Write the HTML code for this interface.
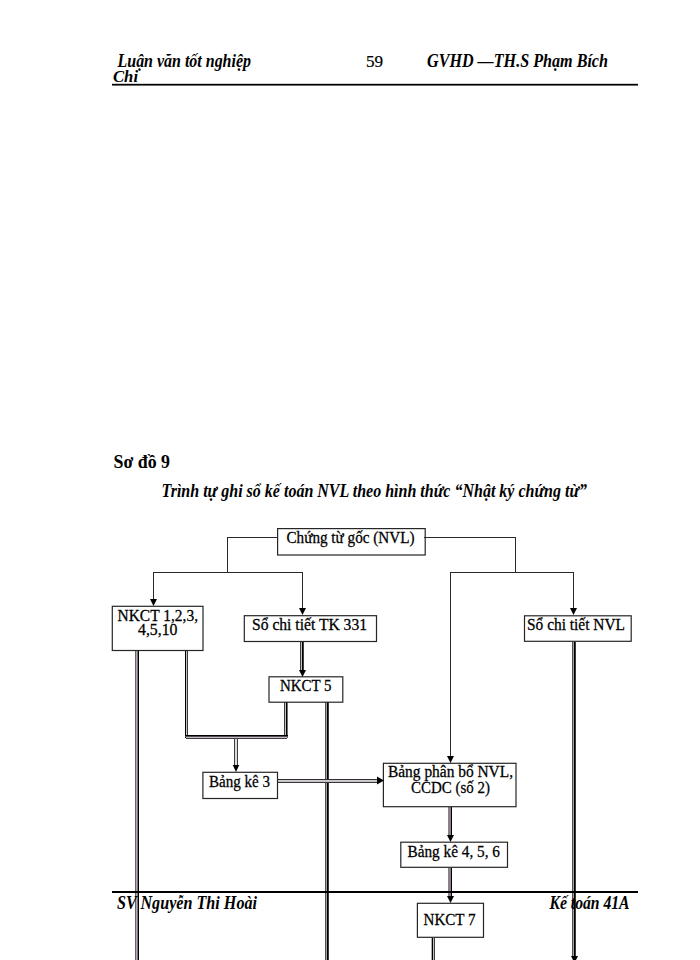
<!DOCTYPE html>
<html><head><meta charset="utf-8"><style>
html,body{margin:0;padding:0;background:#fff;width:700px;height:960px;overflow:hidden}
svg{display:block}
text{font-family:"Liberation Serif",serif;fill:#000}
</style></head><body>
<svg width="700" height="960" viewBox="0 0 700 960">
<g shape-rendering="crispEdges">
<rect x="112" y="83" width="526" height="1" fill="#cfcfcf"/>
<rect x="112" y="84" width="526" height="1" fill="#000"/>
<rect x="112" y="85" width="526" height="1" fill="#6a6a6a"/>
<rect x="227" y="537" width="51" height="1" fill="#2a2a2a"/>
<rect x="227" y="537" width="1" height="36" fill="#2a2a2a"/>
<rect x="153" y="572" width="150" height="1" fill="#2a2a2a"/>
<rect x="153" y="572" width="1" height="29" fill="#2a2a2a"/>
<rect x="302" y="572" width="1" height="38" fill="#2a2a2a"/>
<rect x="424" y="537" width="92" height="1" fill="#2a2a2a"/>
<rect x="515" y="537" width="1" height="36" fill="#2a2a2a"/>
<rect x="450" y="572" width="124" height="1" fill="#2a2a2a"/>
<rect x="573" y="572" width="1" height="38" fill="#2a2a2a"/>
<rect x="450" y="572" width="1" height="186" fill="#2a2a2a"/>
<rect x="135" y="651" width="1" height="310" fill="#6a626a"/>
<rect x="136" y="651" width="1" height="310" fill="#b4a8b4"/>
<rect x="137" y="651" width="1" height="310" fill="#7a727a"/>
<rect x="138" y="651" width="1" height="310" fill="#000"/>
<rect x="185" y="651" width="1" height="87" fill="#000"/>
<rect x="186" y="651" width="1" height="87" fill="#cabcca"/>
<rect x="187" y="651" width="1" height="87" fill="#3c3c3c"/>
<rect x="284" y="702" width="1" height="36" fill="#3c3c3c"/>
<rect x="285" y="702" width="1" height="36" fill="#cabcca"/>
<rect x="286" y="702" width="1" height="36" fill="#000"/>
<rect x="287" y="702" width="1" height="36" fill="#707070"/>
<rect x="185" y="735" width="103" height="1" fill="#000"/>
<rect x="185" y="736" width="103" height="1" fill="#505050"/>
<rect x="186" y="737" width="101" height="1" fill="#cabcca"/>
<rect x="186" y="738" width="101" height="1" fill="#3c3c3c"/>
<rect x="234" y="739" width="1" height="28" fill="#3c3c3c"/>
<rect x="235" y="739" width="1" height="28" fill="#e0d8e0"/>
<rect x="236" y="739" width="1" height="28" fill="#e0d8e0"/>
<rect x="237" y="739" width="1" height="28" fill="#3c3c3c"/>
<rect x="300" y="642" width="1" height="28" fill="#3c3c3c"/>
<rect x="301" y="642" width="1" height="28" fill="#cabcca"/>
<rect x="302" y="642" width="1" height="28" fill="#000"/>
<rect x="303" y="642" width="1" height="28" fill="#404040"/>
<rect x="325" y="702" width="1" height="259" fill="#505050"/>
<rect x="326" y="702" width="1" height="259" fill="#aa9aaa"/>
<rect x="327" y="702" width="1" height="259" fill="#000"/>
<rect x="328" y="702" width="1" height="259" fill="#3a3a3a"/>
<rect x="278" y="779" width="100" height="1" fill="#303030"/>
<rect x="278" y="780" width="100" height="1" fill="#d0c8d0"/>
<rect x="278" y="781" width="100" height="1" fill="#c8c0c8"/>
<rect x="278" y="782" width="100" height="1" fill="#353535"/>
<rect x="572" y="642" width="1" height="314" fill="#505050"/>
<rect x="573" y="642" width="1" height="314" fill="#aa9aaa"/>
<rect x="574" y="642" width="1" height="314" fill="#000"/>
<rect x="575" y="642" width="1" height="314" fill="#3a3a3a"/>
<rect x="448" y="807" width="1" height="29" fill="#8a808a"/>
<rect x="449" y="807" width="1" height="29" fill="#8a808a"/>
<rect x="450" y="807" width="1" height="29" fill="#8a808a"/>
<rect x="451" y="807" width="1" height="29" fill="#000"/>
<rect x="448" y="868" width="1" height="29" fill="#8a808a"/>
<rect x="449" y="868" width="1" height="29" fill="#8a808a"/>
<rect x="450" y="868" width="1" height="29" fill="#8a808a"/>
<rect x="451" y="868" width="1" height="29" fill="#000"/>
<rect x="431" y="938" width="1" height="23" fill="#b0b0b0"/>
<rect x="432" y="938" width="1" height="23" fill="#000"/>
<rect x="433" y="938" width="1" height="23" fill="#cabcca"/>
<rect x="434" y="938" width="1" height="23" fill="#3c3c3c"/>
<rect x="112" y="891" width="526" height="2" fill="#000"/>
</g>
<rect x="277.6" y="528.6" width="147.6" height="26.4" fill="none" stroke="#262626" stroke-width="1.2"/>
<rect x="112.3" y="606.3" width="90.7" height="44.2" fill="none" stroke="#262626" stroke-width="1.2"/>
<rect x="244.3" y="615.7" width="132.2" height="25.8" fill="none" stroke="#262626" stroke-width="1.2"/>
<rect x="524.5" y="615.8" width="106.7" height="25.5" fill="none" stroke="#262626" stroke-width="1.2"/>
<rect x="269.0" y="676.8" width="73.8" height="25.4" fill="none" stroke="#262626" stroke-width="1.2"/>
<rect x="202.9" y="772.3" width="74.6" height="26.2" fill="none" stroke="#262626" stroke-width="1.2"/>
<rect x="383.4" y="763.3" width="132.6" height="43.4" fill="none" stroke="#262626" stroke-width="1.2"/>
<rect x="400.8" y="842.2" width="106.7" height="25.1" fill="none" stroke="#262626" stroke-width="1.2"/>
<rect x="417.4" y="903.3" width="66.1" height="34.0" fill="none" stroke="#262626" stroke-width="1.2"/>
<polygon points="150.0,599 157.0,599 153.5,606" fill="#000"/>
<polygon points="299.0,608 306.0,608 302.5,615" fill="#000"/>
<polygon points="570.0,608 577.0,608 573.5,615" fill="#000"/>
<polygon points="447.0,756 454.0,756 450.5,763" fill="#000"/>
<polygon points="232.75,765 239.25,765 236.0,772" fill="#000"/>
<polygon points="299.0,670 306.0,670 302.5,677" fill="#000"/>
<polygon points="377,776.5 377,784.5 384,780.5" fill="#000"/>
<polygon points="571.0,956 578.0,956 574.5,963" fill="#000"/>
<polygon points="447.0,835 454.0,835 450.5,842" fill="#000"/>
<polygon points="447.0,896 454.0,896 450.5,903" fill="#000"/>
<text x="117.5" y="67.0" font-size="18.0" font-weight="bold" font-style="italic" textLength="133.5" lengthAdjust="spacingAndGlyphs">Luận văn tốt nghiệp</text>
<text x="366.0" y="67.3" font-size="17.3" font-weight="normal" font-style="normal" textLength="17.09" lengthAdjust="spacingAndGlyphs" stroke="#000" stroke-width="0.2">59</text>
<text x="427.0" y="67.0" font-size="18.4" font-weight="bold" font-style="italic" textLength="181.01" lengthAdjust="spacingAndGlyphs">GVHD —TH.S Phạm Bích</text>
<text x="113.0" y="81.5" font-size="17.0" font-weight="bold" font-style="italic" textLength="25.02" lengthAdjust="spacingAndGlyphs">Chi</text>
<text x="113.5" y="468.3" font-size="19.0" font-weight="bold" font-style="normal" textLength="56.55" lengthAdjust="spacingAndGlyphs">Sơ đồ 9</text>
<text x="161.5" y="497.3" font-size="18.2" font-weight="bold" font-style="italic" textLength="425.51" lengthAdjust="spacingAndGlyphs">Trình tự ghi sổ kế toán NVL theo hình thức “Nhật ký chứng từ”</text>
<text x="117.0" y="909.1" font-size="18.4" font-weight="bold" font-style="italic" textLength="140.0" lengthAdjust="spacingAndGlyphs">SV Nguyễn Thi Hoài</text>
<text x="549.5" y="909.1" font-size="18.4" font-weight="bold" font-style="italic" textLength="80.02" lengthAdjust="spacingAndGlyphs">Kế toán 41A</text>
<text x="286.5" y="542.9" font-size="16.2" font-weight="normal" font-style="normal" textLength="128.0" lengthAdjust="spacingAndGlyphs" stroke="#000" stroke-width="0.28">Chứng từ gốc (NVL)</text>
<text x="117.5" y="620.5" font-size="16.2" font-weight="normal" font-style="normal" textLength="80.52" lengthAdjust="spacingAndGlyphs" stroke="#000" stroke-width="0.28">NKCT 1,2,3,</text>
<text x="138.0" y="634.8" font-size="16.2" font-weight="normal" font-style="normal" textLength="39.5" lengthAdjust="spacingAndGlyphs" stroke="#000" stroke-width="0.28">4,5,10</text>
<text x="252.0" y="630.0" font-size="16.2" font-weight="normal" font-style="normal" textLength="115.04" lengthAdjust="spacingAndGlyphs" stroke="#000" stroke-width="0.28">Sổ chi tiết TK 331</text>
<text x="527.0" y="630.0" font-size="16.2" font-weight="normal" font-style="normal" textLength="98.03" lengthAdjust="spacingAndGlyphs" stroke="#000" stroke-width="0.28">Sổ chi tiết NVL</text>
<text x="280.0" y="690.6" font-size="16.2" font-weight="normal" font-style="normal" textLength="51.53" lengthAdjust="spacingAndGlyphs" stroke="#000" stroke-width="0.28">NKCT 5</text>
<text x="209.0" y="786.6" font-size="16.8" font-weight="normal" font-style="normal" textLength="61.0" lengthAdjust="spacingAndGlyphs" stroke="#000" stroke-width="0.28">Bảng kê 3</text>
<text x="388.0" y="777.3" font-size="16.8" font-weight="normal" font-style="normal" textLength="125.02" lengthAdjust="spacingAndGlyphs" stroke="#000" stroke-width="0.28">Bảng phân bổ NVL,</text>
<text x="411.0" y="792.8" font-size="16.8" font-weight="normal" font-style="normal" textLength="79.01" lengthAdjust="spacingAndGlyphs" stroke="#000" stroke-width="0.28">CCDC (số 2)</text>
<text x="407.5" y="856.6" font-size="16.8" font-weight="normal" font-style="normal" textLength="92.51" lengthAdjust="spacingAndGlyphs" stroke="#000" stroke-width="0.28">Bảng kê 4, 5, 6</text>
<text x="423.5" y="924.8" font-size="16.2" font-weight="normal" font-style="normal" textLength="52.03" lengthAdjust="spacingAndGlyphs" stroke="#000" stroke-width="0.28">NKCT 7</text>
</svg>
</body></html>
